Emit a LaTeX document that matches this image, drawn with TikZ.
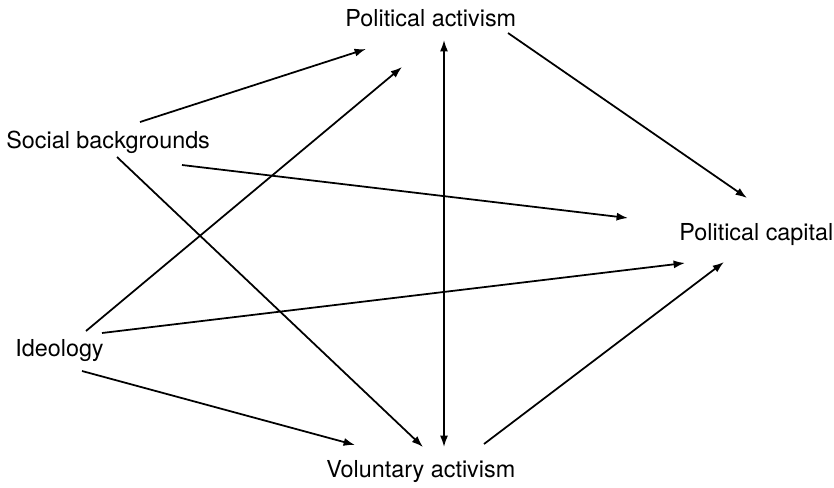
\documentclass[tikz,border=0pt]{standalone}
\usepackage{fontspec}
\setmainfont{TeX Gyre Heros}
\usetikzlibrary{arrows.meta}

\begin{document}
\begin{tikzpicture}[
    x=0.02cm, y=-0.02cm,
    every node/.style={font=\fontsize{13.3}{15}\selectfont},
    >={Latex[length=6.5pt, width=4.6pt]},
    var/.style={anchor=base west, inner sep=0pt},
    link/.style={->, line width=1pt},
]
\useasboundingbox (0,0) rectangle (834,487);

% --- Variables ---
\node[var] (pa) at (345,26) {Political activism};
\node[var] (sb) at (6,148) {Social backgrounds};
\node[var] (pc) at (679,240) {Political capital};
\node[var] (id) at (15,356) {Ideology};
\node[var] (va) at (326,477) {Voluntary activism};

% --- Paths ---
\draw[link] ([shift={(134,-26)}]sb.base west) -- ([shift={(21,23)}]pa.base west);
\draw[link] ([shift={(71,-25)}]id.base west) -- ([shift={(57,41)}]pa.base west);
\draw[link, <->] ([shift={(118,-30)}]va.base west) -- ([shift={(99,14)}]pa.base west);
\draw[link] ([shift={(163,7)}]pa.base west) -- ([shift={(68,-42)}]pc.base west);
\draw[link] ([shift={(176,17)}]sb.base west) -- ([shift={(-51,-22)}]pc.base west);
\draw[link] ([shift={(111,9)}]sb.base west) -- ([shift={(97,-30)}]va.base west);
\draw[link] ([shift={(87,-23)}]id.base west) -- ([shift={(6,23)}]pc.base west);
\draw[link] ([shift={(67,15)}]id.base west) -- ([shift={(29,-32)}]va.base west);
\draw[link] ([shift={(158,-33)}]va.base west) -- ([shift={(45,22)}]pc.base west);

\end{tikzpicture}
\end{document}
